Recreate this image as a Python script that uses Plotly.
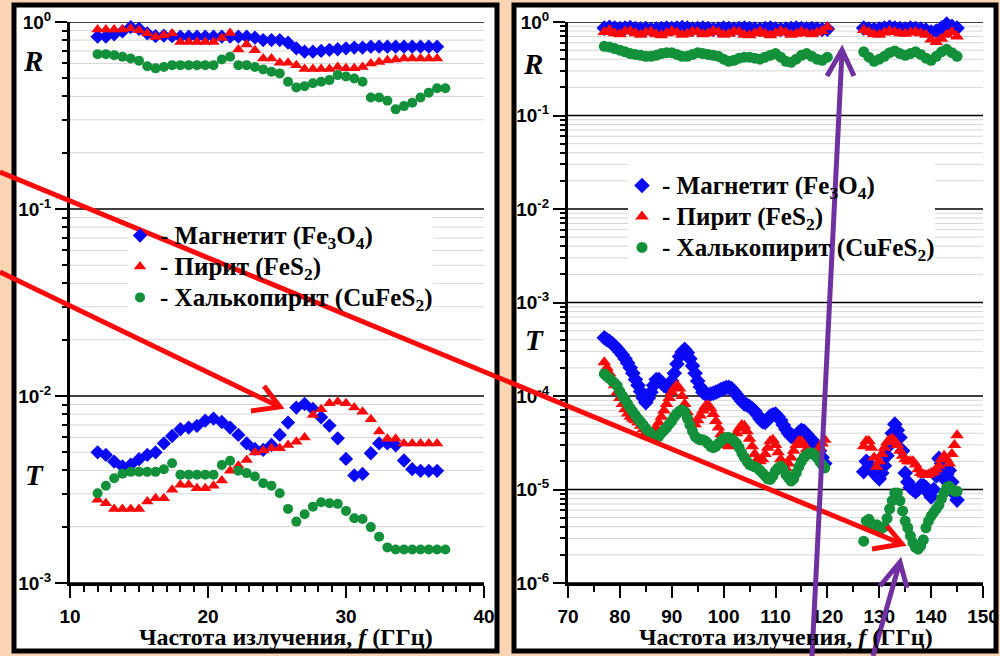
import plotly.graph_objects as go

W, H = 1000, 656


def px(x):
    return x / W


def py(y):
    return 1 - y / H


BLUE = "#0A0AF5"
RED = "#FA0A0A"
GREEN = "#12903A"
PEACH = "#FCD5B4"
PURPLE = "#7030A0"
SERIF = "Liberation Serif"
SANS = "Liberation Sans"

# ---------------- 10-40 GHz band ----------------
freq_low = [12.0, 12.6, 13.2, 13.8, 14.4, 15.0, 15.6, 16.2, 16.8, 17.4, 18.0,
            18.6, 19.2, 19.8, 20.4, 21.0, 21.6, 22.2, 22.8, 23.4, 24.0, 24.6,
            25.2, 25.8, 26.4, 27.0, 27.6, 28.2, 28.8, 29.4, 30.0, 30.6, 31.2,
            31.8, 32.4, 33.0, 33.6, 34.2, 34.8, 35.4, 36.0, 36.6, 37.2]

r_magnetite_low = [0.835, 0.835, 0.86, 0.89, 0.94, 0.92, 0.87, 0.84, 0.845, 0.84,
                   0.835, 0.835, 0.835, 0.835, 0.835, 0.835, 0.835, 0.835, 0.835,
                   0.825, 0.80, 0.80, 0.80, 0.775, 0.723, 0.694, 0.694, 0.70, 0.71,
                   0.715, 0.723, 0.73, 0.73, 0.738, 0.738, 0.738, 0.738, 0.738,
                   0.738, 0.738, 0.738, 0.738]
r_pyrite_low = [0.911, 0.911, 0.911, 0.911, 0.922, 0.903, 0.867, 0.832, 0.849, 0.867,
                0.782, 0.782, 0.782, 0.782, 0.782, 0.822, 0.874, 0.713, 0.758, 0.706,
                0.638, 0.638, 0.605, 0.605, 0.588, 0.560, 0.560, 0.560, 0.560, 0.575,
                0.565, 0.565, 0.575, 0.600, 0.612, 0.625, 0.630, 0.638, 0.638, 0.638,
                0.638, 0.638]
r_chalco_low = [0.673, 0.673, 0.665, 0.652, 0.638, 0.620, 0.580, 0.565, 0.575, 0.588,
                0.588, 0.588, 0.588, 0.588, 0.588, 0.630, 0.652, 0.588, 0.588, 0.575,
                0.557, 0.542, 0.531, 0.479, 0.447, 0.454, 0.470, 0.479, 0.489, 0.520,
                0.511, 0.499, 0.479, 0.395, 0.395, 0.379, 0.341, 0.355, 0.370, 0.395,
                0.419, 0.442, 0.442]

t_magnetite_low = [0.0050, 0.00484, 0.00446, 0.0042, 0.00429, 0.00459, 0.00484, 0.0050,
                   0.00558, 0.00611, 0.00664, 0.00678, 0.00692, 0.00738, 0.00757,
                   0.00726, 0.00678, 0.00619, 0.00558, 0.00521, 0.00515, 0.00547,
                   0.00619, 0.00721, 0.00867, 0.00906, 0.00853, 0.00769, 0.00695,
                   0.00594, 0.00461, 0.00376, 0.00383, 0.00494, 0.00558, 0.00558,
                   0.00545, 0.00452, 0.00406, 0.00398, 0.00398, 0.00398]
t_pyrite_low = [0.00279, 0.00267, 0.00249, 0.00249, 0.00249, 0.00249, 0.00273, 0.00284,
                0.00284, 0.00315, 0.00335, 0.00335, 0.00321, 0.00321, 0.00331, 0.00353,
                0.00398, 0.00423, 0.00455, 0.00498, 0.00511, 0.00526, 0.00526, 0.00547,
                0.0057, 0.0060, 0.00792, 0.00849, 0.00914, 0.00933, 0.00914, 0.00867,
                0.00824, 0.0075, 0.00645, 0.0059, 0.0059, 0.00558, 0.00558, 0.00558,
                0.00558, 0.00558]
t_chalco_low = [0.00302, 0.00331, 0.00363, 0.00384, 0.00393, 0.00393, 0.00393, 0.00393,
                0.00406, 0.00437, 0.00379, 0.00379, 0.00379, 0.00379, 0.00379, 0.00428,
                0.0045, 0.00398, 0.00387, 0.00371, 0.00342, 0.00331, 0.00302, 0.00249,
                0.00213, 0.00233, 0.00256, 0.0027, 0.00267, 0.00265, 0.00243, 0.00222,
                0.0022, 0.00199, 0.00177, 0.00155, 0.00151, 0.00151, 0.00151, 0.00151,
                0.00151, 0.00151, 0.00151]

# ---------------- 70-150 GHz band ----------------
freq_r_hi = [77, 78, 79, 80, 81, 82, 83, 84, 85, 86, 87, 88, 89, 90, 91, 92, 93, 94,
             95, 96, 97, 98, 99, 100, 101, 102, 103, 104, 105, 106, 107, 108, 109,
             110, 111, 112, 113, 114, 115, 116, 117, 118, 119, 120,
             127, 128, 129, 130, 131, 132, 133, 134, 135, 136, 137, 138, 139, 140,
             141, 142, 143, 144, 145]

r_magnetite_hi = [0.86, 0.88, 0.86, 0.85, 0.86, 0.87, 0.85, 0.84, 0.85, 0.83, 0.84,
                  0.85, 0.86, 0.85, 0.86, 0.87, 0.86, 0.84, 0.85, 0.86, 0.85, 0.83,
                  0.84, 0.86, 0.85, 0.84, 0.85, 0.86, 0.85, 0.84, 0.83, 0.85, 0.86,
                  0.84, 0.83, 0.84, 0.85, 0.86, 0.85, 0.84, 0.85, 0.84, 0.83, 0.84,
                  0.86, 0.84, 0.83, 0.84, 0.86, 0.88, 0.86, 0.85, 0.84, 0.86, 0.85,
                  0.84, 0.82, 0.78, 0.80, 0.86, 0.95, 0.90, 0.86]
r_pyrite_hi = [0.78, 0.82, 0.76, 0.74, 0.79, 0.80, 0.76, 0.73, 0.77, 0.79, 0.74,
               0.72, 0.76, 0.80, 0.77, 0.73, 0.75, 0.79, 0.78, 0.74, 0.76, 0.80,
               0.78, 0.73, 0.75, 0.79, 0.78, 0.73, 0.72, 0.76, 0.79, 0.75, 0.72,
               0.76, 0.80, 0.77, 0.73, 0.75, 0.79, 0.76, 0.74, 0.77, 0.80, 0.88,
               0.82, 0.78, 0.74, 0.73, 0.77, 0.80, 0.78, 0.76, 0.75, 0.77, 0.78,
               0.76, 0.73, 0.65, 0.61, 0.66, 0.73, 0.78, 0.70]
r_chalco_hi = [0.55, 0.54, 0.52, 0.50, 0.48, 0.46, 0.45, 0.44, 0.43, 0.43, 0.44,
               0.46, 0.47, 0.47, 0.45, 0.43, 0.43, 0.45, 0.47, 0.46, 0.45, 0.44,
               0.43, 0.40, 0.38, 0.39, 0.41, 0.42, 0.42, 0.41, 0.40, 0.42, 0.44,
               0.46, 0.42, 0.38, 0.37, 0.40, 0.44, 0.46, 0.43, 0.40, 0.39, 0.42,
               0.48, 0.42, 0.38, 0.40, 0.43, 0.47, 0.49, 0.46, 0.44, 0.46, 0.48,
               0.45, 0.41, 0.39, 0.43, 0.48, 0.51, 0.47, 0.43]

freq_t_hi = [77.0, 77.5, 78.0, 78.5, 79.0, 79.5, 80.0, 80.5, 81.0, 81.5, 82.0, 82.5,
             83.0, 83.5, 84.0, 84.5, 85.0, 85.5, 86.0, 86.5, 87.0, 87.5, 88.0, 88.5,
             89.0, 89.5, 90.0, 90.5, 91.0, 91.5, 92.0, 92.5, 93.0, 93.5, 94.0, 94.5,
             95.0, 95.5, 96.0, 96.5, 97.0, 97.5, 98.0, 98.5, 99.0, 99.5, 100.0, 100.5,
             101.0, 101.5, 102.0, 102.5, 103.0, 103.5, 104.0, 104.5, 105.0, 105.5,
             106.0, 106.5, 107.0, 107.5, 108.0, 108.5, 109.0, 109.5, 110.0, 110.5,
             111.0, 111.5, 112.0, 112.5, 113.0, 113.5, 114.0, 114.5, 115.0, 115.5,
             116.0, 116.5, 117.0, 117.5, 118.0, 118.5, 119.0, 119.5,
             127.0, 127.5, 128.0, 128.5, 129.0, 129.5, 130.0, 130.5, 131.0, 131.5,
             132.0, 132.5, 133.0, 133.5, 134.0, 134.5, 135.0, 135.5, 136.0, 136.5,
             137.0, 137.5, 138.0, 138.5, 139.0, 139.5, 140.0, 140.5, 141.0, 141.5,
             142.0, 142.5, 143.0, 143.5, 144.0, 144.5, 145.0]

t_magnetite_hi = [4.2e-4, 4.0e-4, 3.85e-4, 3.65e-4, 3.45e-4, 3.2e-4, 2.95e-4, 2.75e-4,
                  2.5e-4, 2.25e-4, 2.0e-4, 1.75e-4, 1.5e-4, 1.3e-4, 1.12e-4, 0.95e-4,
                  0.85e-4, 0.95e-4, 1.1e-4, 1.3e-4, 1.5e-4, 1.5e-4, 1.4e-4, 1.3e-4,
                  1.25e-4, 1.3e-4, 1.45e-4, 1.75e-4, 2.2e-4, 2.65e-4, 2.95e-4, 3.15e-4,
                  2.9e-4, 2.5e-4, 2.1e-4, 1.75e-4, 1.45e-4, 1.25e-4, 1.1e-4, 1.05e-4,
                  1.03e-4, 1.05e-4, 1.07e-4, 1.1e-4, 1.13e-4, 1.17e-4, 1.2e-4, 1.23e-4,
                  1.24e-4, 1.2e-4, 1.12e-4, 1.03e-4, 0.95e-4, 0.88e-4, 0.82e-4, 0.8e-4,
                  0.77e-4, 0.73e-4, 0.69e-4, 0.63e-4, 0.57e-4, 0.53e-4, 0.52e-4, 0.56e-4,
                  0.61e-4, 0.63e-4, 0.64e-4, 0.6e-4, 0.55e-4, 0.49e-4, 0.44e-4, 0.40e-4,
                  0.37e-4, 0.37e-4, 0.38e-4, 0.41e-4, 0.43e-4, 0.42e-4, 0.39e-4, 0.36e-4,
                  0.34e-4, 0.31e-4, 0.29e-4, 0.26e-4, 0.22e-4, 0.19e-4,
                  1.55e-5, 2.0e-5, 1.9e-5, 1.7e-5, 1.5e-5, 1.4e-5, 1.3e-5, 1.5e-5,
                  1.8e-5, 2.3e-5, 3.0e-5, 4.0e-5, 5.0e-5, 4.3e-5, 3.6e-5, 2.6e-5,
                  1.5e-5, 1.2e-5, 1.05e-5, 1.0e-5, 0.95e-5, 1.0e-5, 1.1e-5, 1.1e-5,
                  1.05e-5, 0.92e-5, 0.83e-5, 1.0e-5, 1.4e-5, 2.15e-5, 1.9e-5, 1.3e-5,
                  1.45e-5, 1.6e-5, 1.2e-5, 0.9e-5, 0.77e-5]
t_pyrite_hi = [2.3e-4, 2.0e-4, 1.75e-4, 1.5e-4, 1.3e-4, 1.1e-4, 0.95e-4, 0.82e-4,
               0.72e-4, 0.65e-4, 0.6e-4, 0.57e-4, 0.55e-4, 0.52e-4, 0.48e-4, 0.44e-4,
               0.41e-4, 0.4e-4, 0.4e-4, 0.42e-4, 0.46e-4, 0.52e-4, 0.6e-4, 0.7e-4,
               0.82e-4, 0.95e-4, 1.1e-4, 1.22e-4, 1.3e-4, 1.2e-4, 1.0e-4, 0.82e-4,
               0.67e-4, 0.56e-4, 0.5e-4, 0.5e-4, 0.55e-4, 0.62e-4, 0.7e-4, 0.78e-4,
               0.8e-4, 0.74e-4, 0.64e-4, 0.54e-4, 0.46e-4, 0.39e-4, 0.34e-4, 0.3e-4,
               0.29e-4, 0.31e-4, 0.35e-4, 0.4e-4, 0.45e-4, 0.49e-4, 0.48e-4, 0.42e-4,
               0.35e-4, 0.29e-4, 0.24e-4, 0.21e-4, 0.2e-4, 0.21e-4, 0.24e-4, 0.28e-4,
               0.33e-4, 0.34e-4, 0.3e-4, 0.25e-4, 0.21e-4, 0.18e-4, 0.17e-4, 0.19e-4,
               0.22e-4, 0.26e-4, 0.3e-4, 0.33e-4, 0.33e-4, 0.3e-4, 0.27e-4, 0.25e-4,
               0.23e-4, 0.23e-4, 0.25e-4, 0.28e-4, 0.31e-4, 0.34e-4,
               2.9e-5, 3.3e-5, 3.3e-5, 2.8e-5, 2.2e-5, 1.75e-5, 2.0e-5, 2.4e-5,
               2.8e-5, 3.2e-5, 3.4e-5, 3.5e-5, 3.3e-5, 3.0e-5, 2.6e-5, 2.3e-5,
               2.1e-5, 2.0e-5, 2.0e-5, 2.0e-5, 1.85e-5, 1.65e-5, 1.5e-5, 1.45e-5,
               1.43e-5, 1.45e-5, 1.5e-5, 1.55e-5, 1.65e-5, 1.8e-5, 2.1e-5, 2.3e-5,
               2.1e-5, 1.9e-5, 2.4e-5, 3.0e-5, 3.8e-5]
t_chalco_hi = [1.72e-4, 1.62e-4, 1.55e-4, 1.45e-4, 1.37e-4, 1.28e-4, 1.12e-4, 1.0e-4,
               0.92e-4, 0.82e-4, 0.74e-4, 0.68e-4, 0.62e-4, 0.57e-4, 0.53e-4, 0.49e-4,
               0.45e-4, 0.42e-4, 0.39e-4, 0.37e-4, 0.355e-4, 0.37e-4, 0.4e-4, 0.43e-4,
               0.46e-4, 0.5e-4, 0.54e-4, 0.6e-4, 0.65e-4, 0.69e-4, 0.71e-4, 0.68e-4,
               0.58e-4, 0.49e-4, 0.42e-4, 0.37e-4, 0.35e-4, 0.34e-4, 0.34e-4, 0.33e-4,
               0.31e-4, 0.29e-4, 0.28e-4, 0.29e-4, 0.31e-4, 0.33e-4, 0.35e-4, 0.36e-4,
               0.36e-4, 0.35e-4, 0.33e-4, 0.31e-4, 0.28e-4, 0.245e-4, 0.22e-4, 0.2e-4,
               0.185e-4, 0.18e-4, 0.175e-4, 0.17e-4, 0.16e-4, 0.15e-4, 0.14e-4, 0.13e-4,
               0.128e-4, 0.14e-4, 0.158e-4, 0.17e-4, 0.177e-4, 0.165e-4, 0.145e-4,
               0.133e-4, 0.123e-4, 0.13e-4, 0.15e-4, 0.175e-4, 0.2e-4, 0.22e-4,
               0.235e-4, 0.245e-4, 0.245e-4, 0.235e-4, 0.22e-4, 0.2e-4, 0.185e-4, 0.17e-4,
               2.8e-6, 4.6e-6, 4.8e-6, 4.3e-6, 4.0e-6, 4.2e-6, 3.6e-6, 3.9e-6,
               4.0e-6, 4.9e-6, 6.2e-6, 7.6e-6, 9.2e-6, 9.2e-6, 7.6e-6, 5.9e-6,
               4.6e-6, 3.9e-6, 3.2e-6, 2.7e-6, 2.4e-6, 2.3e-6, 2.5e-6, 2.9e-6,
               3.9e-6, 4.6e-6, 5.2e-6, 5.7e-6, 6.2e-6, 6.8e-6, 8.0e-6, 9.3e-6,
               1.05e-5, 1.08e-5, 1.0e-5, 0.96e-5, 0.96e-5]

series_labels = ["- Магнетит (Fe<sub>3</sub>O<sub>4</sub>)",
                 "- Пирит (FeS<sub>2</sub>)",
                 "- Халькопирит (CuFeS<sub>2</sub>)"]
symbols = ["diamond", "triangle-up", "circle"]
sizes_low = [11, 11, 10]
sizes_hi = [12, 12, 11]
colors = [BLUE, RED, GREEN]

# larger text inside a tighter legend row
series_names = ['<span style="font-size:25px"><b>%s</b></span>' % s
                for s in series_labels]

low_r = [r_magnetite_low, r_pyrite_low, r_chalco_low]
low_t = [t_magnetite_low, t_pyrite_low, t_chalco_low]
hi_r = [r_magnetite_hi, r_pyrite_hi, r_chalco_hi]
hi_t = [t_magnetite_hi, t_pyrite_hi, t_chalco_hi]

fig = go.Figure()

for i in range(3):
    mk = dict(symbol=symbols[i], size=sizes_low[i], color=colors[i], line=dict(width=0))
    mk_hi = dict(symbol=symbols[i], size=sizes_hi[i], color=colors[i], line=dict(width=0))
    # low band: reflection (with legend entry) and transmission
    fig.add_trace(go.Scatter(x=freq_low[:len(low_r[i])], y=low_r[i], mode="markers",
                             marker=mk, name=series_names[i], legend="legend",
                             legendgroup="l%d" % i, showlegend=True,
                             xaxis="x", yaxis="y", cliponaxis=False))
    fig.add_trace(go.Scatter(x=freq_low[:len(low_t[i])], y=low_t[i], mode="markers",
                             marker=mk, name=series_names[i], legendgroup="l%d" % i,
                             showlegend=False, xaxis="x", yaxis="y", cliponaxis=False))
    # high band
    fig.add_trace(go.Scatter(x=freq_r_hi, y=hi_r[i], mode="markers",
                             marker=mk_hi, name=series_names[i], legend="legend2",
                             legendgroup="h%d" % i, showlegend=True,
                             xaxis="x2", yaxis="y2", cliponaxis=False))
    fig.add_trace(go.Scatter(x=freq_t_hi, y=hi_t[i], mode="markers",
                             marker=mk_hi, name=series_names[i], legendgroup="h%d" % i,
                             showlegend=False, xaxis="x2", yaxis="y2", cliponaxis=False))

Y_DOM = [1 - 583 / H, 1 - 22 / H]
tickfont = dict(family=SANS, size=19, color="black", weight="bold")


def xaxis_cfg(dom, rng, minor_step, anchor):
    return dict(domain=dom, range=rng, anchor=anchor, dtick=10, tick0=0,
                automargin=False,
                ticks="outside", ticklen=12, tickwidth=2, tickcolor="black",
                showline=True, linecolor="black", linewidth=3, showgrid=False,
                zeroline=False, tickfont=tickfont, ticklabelstandoff=2,
                minor=dict(dtick=minor_step, tick0=0, ticks="outside", ticklen=6,
                           tickwidth=1.5, tickcolor="black", showgrid=False))


def minor_vals(lo):
    return [m * 10.0 ** k for k in range(lo, 0) for m in range(2, 10)]


def yaxis_cfg(lo, anchor):
    vals = [10.0 ** k for k in range(lo, 1)]
    text = ["<b>10<sup>%d</sup></b>" % k for k in range(lo, 1)]
    return dict(domain=Y_DOM, type="log", range=[lo, 0], anchor=anchor,
                automargin=False,
                tickmode="array", tickvals=vals, ticktext=text,
                ticks="outside", ticklen=12, tickwidth=2, tickcolor="black",
                showline=True, linecolor="black", linewidth=3,
                showgrid=False, zeroline=False, tickfont=tickfont,
                minor=dict(tickmode="array", tickvals=minor_vals(lo),
                           ticks="outside", ticklen=5, tickwidth=1.5,
                           tickcolor="black", showgrid=False))


shapes = []
# panel frames
for x0, x1 in [(14, 497), (514, 996)]:
    shapes.append(dict(type="rect", xref="paper", yref="paper", layer="below",
                       x0=px(x0), x1=px(x1), y0=py(651), y1=py(5),
                       fillcolor="white", line=dict(color="black", width=5)))


def grid(xr, yr, lo):
    out = []
    for v in minor_vals(lo):
        out.append(dict(type="line", xref=xr + " domain", yref=yr, layer="below",
                        x0=0, x1=1, y0=v, y1=v, line=dict(color="#D6D6D6", width=1)))
    for k in range(lo, 1):
        v = 10.0 ** k
        out.append(dict(type="line", xref=xr + " domain", yref=yr, layer="below",
                        x0=0, x1=1, y0=v, y1=v, line=dict(color="black", width=1.5)))
    return out


shapes += grid("x", "y", -3)
shapes += grid("x2", "y2", -6)

# white boxes behind the legends hide the grid there
shapes.append(dict(type="rect", xref="x domain", yref="y domain", layer="below",
                   x0=(128 - 70) / 414, x1=(433 - 70) / 414,
                   y0=(583 - 318) / 561, y1=(583 - 214) / 561,
                   fillcolor="white", line=dict(width=0)))
shapes.append(dict(type="rect", xref="x2 domain", yref="y2 domain", layer="below",
                   x0=(628 - 568) / 415, x1=(935 - 568) / 415,
                   y0=(583 - 268) / 561, y1=(583 - 158) / 561,
                   fillcolor="white", line=dict(width=0)))


def seg(points, color):
    d = "M" + " L".join("%.4f,%.4f" % (px(a), py(b)) for a, b in points)
    return dict(type="path", xref="paper", yref="paper", layer="above", path=d,
                line=dict(color=color, width=5))


# pointer arrows
shapes.append(seg([(0, 272), (280, 407)], RED))
shapes.append(seg([(264, 386), (280, 407), (251, 411)], RED))
shapes.append(seg([(0, 172), (902, 544)], RED))
shapes.append(seg([(887, 526), (902, 544), (872, 549)], RED))
shapes.append(seg([(812, 656), (842, 52)], PURPLE))
shapes.append(seg([(827, 76), (842, 50), (854, 76)], PURPLE))
shapes.append(seg([(873, 656), (899, 565)], PURPLE))
shapes.append(seg([(880, 586), (900, 562), (907, 588)], PURPLE))

annotations = []
for x, y, t in [(33, 61, "R"), (34, 475, "T"), (533, 64, "R"), (534, 340, "T")]:
    annotations.append(dict(x=px(x), y=py(y), xref="paper", yref="paper",
                            text="<b><i>%s</i></b>" % t, showarrow=False,
                            font=dict(family=SERIF, size=29, color="black"),
                            xanchor="center", yanchor="middle"))
for x in [286, 786]:
    annotations.append(dict(x=px(x), y=py(637), xref="paper", yref="paper",
                            text="<b>Частота излучения, <i>f</i> (ГГц)</b>",
                            showarrow=False,
                            font=dict(family=SERIF, size=24, color="black"),
                            xanchor="center", yanchor="middle"))

legend_font = dict(family=SERIF, size=21.5, color="black")

fig.update_layout(
    width=W, height=H, autosize=False,
    margin=dict(l=0, r=0, t=0, b=0, autoexpand=False),
    paper_bgcolor=PEACH, plot_bgcolor="white",
    xaxis=xaxis_cfg([70 / W, 484 / W], [10, 40], 1, "y"),
    yaxis=yaxis_cfg(-3, "x"),
    xaxis2=xaxis_cfg([568 / W, 983 / W], [70, 150], 5, "y2"),
    yaxis2=yaxis_cfg(-6, "x2"),
    legend=dict(x=px(120), y=py(215), xanchor="left", yanchor="top",
                bgcolor="rgba(0,0,0,0)", borderwidth=0, font=legend_font,
                tracegroupgap=0),
    legend2=dict(x=px(622), y=py(165), xanchor="left", yanchor="top",
                 bgcolor="rgba(0,0,0,0)", borderwidth=0, font=legend_font,
                 tracegroupgap=0),
    shapes=shapes,
    annotations=annotations,
    showlegend=True,
)

fig.write_html("out.html")
